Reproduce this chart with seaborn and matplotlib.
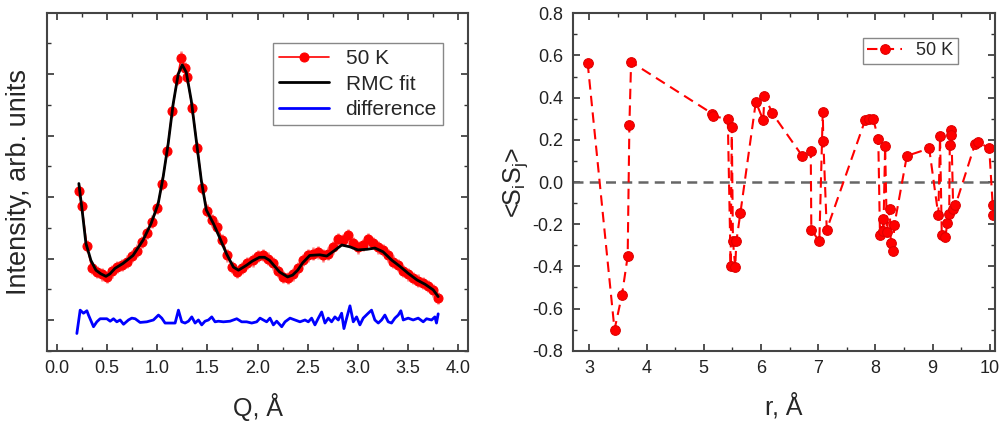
import numpy as np
import pandas as pd
import seaborn as sns
import matplotlib
matplotlib.use("Agg")
import matplotlib.pyplot as plt
from matplotlib.ticker import MultipleLocator, FormatStrFormatter

# ---- left panel: measured intensity, RMC fit and difference ----
q_data = [0.22, 0.25, 0.30, 0.35, 0.40, 0.45, 0.50, 0.55, 0.60, 0.65,
          0.70, 0.75, 0.80, 0.85, 0.90, 0.95, 1.00, 1.05, 1.10, 1.15,
          1.20, 1.24, 1.28, 1.30, 1.35, 1.40, 1.45, 1.50, 1.55, 1.60,
          1.65, 1.70, 1.75, 1.80, 1.85, 1.90, 1.95, 2.00, 2.05, 2.10,
          2.15, 2.20, 2.25, 2.30, 2.35, 2.40, 2.45, 2.50, 2.55, 2.60,
          2.65, 2.70, 2.75, 2.80, 2.85, 2.90, 2.95, 3.00, 3.05, 3.10,
          3.15, 3.20, 3.25, 3.30, 3.35, 3.40, 3.45, 3.50, 3.55, 3.60,
          3.65, 3.70, 3.75, 3.80]
i_data = [2.10, 1.85, 1.20, 0.85, 0.78, 0.74, 0.70, 0.79, 0.86, 0.90,
          0.95, 1.04, 1.13, 1.27, 1.42, 1.60, 1.82, 2.22, 2.75, 3.40,
          3.92, 4.27, 4.10, 3.95, 3.45, 2.80, 2.15, 1.78, 1.62, 1.52,
          1.30, 1.05, 0.86, 0.78, 0.85, 0.93, 0.97, 1.04, 1.06, 1.00,
          0.92, 0.80, 0.70, 0.68, 0.74, 0.84, 0.98, 1.05, 1.08, 1.10,
          1.05, 1.08, 1.18, 1.32, 1.30, 1.38, 1.25, 1.18, 1.22, 1.32,
          1.25, 1.18, 1.14, 1.05, 0.95, 0.90, 0.80, 0.74, 0.68, 0.64,
          0.60, 0.55, 0.48, 0.36]
i_err = 0.1

q_fit = [0.22, 0.26, 0.29, 0.34, 0.39, 0.44, 0.49, 0.53, 0.58, 0.66,
         0.76, 0.86, 0.94, 1.01, 1.06, 1.11, 1.16, 1.21, 1.25, 1.29,
         1.34, 1.39, 1.44, 1.49, 1.56, 1.62, 1.69, 1.76, 1.81, 1.89,
         1.95, 2.02, 2.07, 2.12, 2.22, 2.30, 2.35, 2.40, 2.45, 2.52,
         2.62, 2.69, 2.75, 2.84, 2.92, 3.00, 3.09, 3.17, 3.25, 3.34,
         3.42, 3.50, 3.59, 3.67, 3.75, 3.80]
i_fit = [2.22, 1.68, 1.25, 0.97, 0.81, 0.75, 0.71, 0.75, 0.84, 0.92,
         1.05, 1.30, 1.57, 1.89, 2.33, 2.87, 3.52, 4.00, 4.15, 4.03,
         3.57, 2.92, 2.27, 1.79, 1.57, 1.35, 1.08, 0.86, 0.81, 0.89,
         0.96, 1.02, 1.02, 0.97, 0.78, 0.70, 0.73, 0.81, 0.93, 1.05,
         1.06, 1.04, 1.11, 1.22, 1.19, 1.14, 1.15, 1.17, 1.11, 0.97,
         0.87, 0.76, 0.65, 0.58, 0.49, 0.38]

q_diff = [0.200, 0.233, 0.266, 0.300, 0.316, 0.366, 0.399, 0.432, 0.499, 0.532,
          0.565, 0.598, 0.631, 0.665, 0.714, 0.747, 0.781, 0.830, 0.897, 0.963,
          1.013, 1.046, 1.079, 1.129, 1.179, 1.212, 1.245, 1.278, 1.312, 1.345,
          1.378, 1.411, 1.444, 1.477, 1.511, 1.544, 1.577, 1.610, 1.660, 1.726,
          1.793, 1.842, 1.892, 1.942, 1.992, 2.025, 2.058, 2.091, 2.124, 2.158,
          2.191, 2.241, 2.274, 2.324, 2.373, 2.423, 2.473, 2.506, 2.539, 2.572,
          2.606, 2.639, 2.672, 2.705, 2.738, 2.771, 2.805, 2.838, 2.861, 2.888,
          2.921, 2.954, 2.987, 3.020, 3.053, 3.103, 3.136, 3.169, 3.203, 3.236,
          3.269, 3.302, 3.335, 3.369, 3.402, 3.428, 3.452, 3.501, 3.551, 3.601,
          3.651, 3.684, 3.734, 3.767, 3.783, 3.800]
i_diff = [-0.22, 0.16, 0.11, 0.15, 0.08, -0.11, -0.03, 0.02, 0.02, -0.02,
          0.02, -0.03, 0.00, -0.07, 0.00, 0.03, 0.02, -0.04, -0.03, 0.00,
          0.08, 0.03, -0.05, -0.05, -0.05, 0.16, -0.03, -0.05, -0.02, 0.05,
          -0.05, 0.00, -0.08, -0.02, 0.00, 0.05, -0.03, -0.02, -0.03, -0.02,
          0.02, -0.03, -0.03, -0.05, -0.03, 0.03, 0.00, -0.03, 0.03, -0.08,
          -0.02, -0.11, -0.03, 0.03, 0.00, -0.03, 0.00, -0.03, 0.03, -0.08,
          0.03, 0.13, -0.05, 0.03, -0.03, 0.05, 0.00, 0.11, -0.14, 0.03,
          0.23, -0.03, 0.05, -0.08, 0.03, 0.11, 0.16, 0.00, -0.05, 0.00,
          0.08, -0.03, -0.05, 0.03, 0.08, 0.15, 0.00, 0.03, 0.00, 0.03,
          -0.03, 0.02, 0.00, 0.05, -0.05, 0.10]

# ---- right panel: spin correlation <SiSj> vs distance ----
r_vals = [2.97, 3.44, 3.57, 3.67, 3.70, 3.73, 5.15, 5.17, 5.42, 5.47,
          5.49, 5.51, 5.55, 5.57, 5.64, 5.91, 6.04, 6.06, 6.20, 6.72,
          6.87, 6.88, 7.02, 7.08, 7.09, 7.15, 7.82, 7.89, 7.96, 8.05,
          8.08, 8.13, 8.14, 8.17, 8.20, 8.25, 8.27, 8.31, 8.33, 8.55,
          8.94, 9.10, 9.13, 9.16, 9.22, 9.26, 9.29, 9.30, 9.32, 9.33,
          9.36, 9.40, 9.74, 9.80, 9.99, 10.05, 10.06]
ss_vals = [0.566, -0.700, -0.536, -0.353, 0.269, 0.569, 0.324, 0.311, 0.300, -0.398,
           0.262, -0.280, -0.403, -0.280, -0.147, 0.380, 0.293, 0.410, 0.325, 0.124,
           0.147, -0.226, -0.282, 0.330, 0.193, -0.226, 0.293, 0.300, 0.300, 0.206,
           -0.253, -0.174, -0.230, 0.170, -0.237, -0.126, -0.290, -0.325, -0.206, 0.124,
           0.159, -0.158, 0.217, -0.253, -0.261, -0.195, -0.150, 0.174, 0.246, 0.222,
           -0.130, -0.110, 0.179, 0.190, 0.159, -0.110, -0.158]

sns.set_style("ticks")
plt.rcParams["font.family"] = ["Liberation Sans", "DejaVu Sans"]
plt.rcParams["mathtext.fontset"] = "custom"
plt.rcParams["mathtext.rm"] = "Liberation Sans"
plt.rcParams["axes.unicode_minus"] = False

fig = plt.figure(figsize=(10.03, 4.29), dpi=100)
ax1 = fig.add_axes([0.0466, 0.1825, 0.4203, 0.788])
ax2 = fig.add_axes([0.5716, 0.1825, 0.4204, 0.7865])

# left panel
ax1.errorbar(q_data, i_data, yerr=i_err, fmt="none", ecolor="#ff8080",
             elinewidth=1.8, capsize=0, zorder=1)
sns.lineplot(x=q_data, y=i_data, ax=ax1, color="red", marker="o", markersize=6.5,
             markeredgecolor="red", linewidth=1.2, sort=False, label="50 K", zorder=2)
sns.lineplot(x=q_fit, y=i_fit, ax=ax1, color="black", linewidth=2,
             sort=False, label="RMC fit", zorder=3)
sns.lineplot(x=q_diff, y=i_diff, ax=ax1, color="blue", linewidth=2,
             sort=False, label="difference", zorder=3)

ax1.set_xlim(-0.1, 4.1)
ax1.set_ylim(-0.5, 5.0)
ax1.xaxis.set_major_locator(MultipleLocator(0.5))
ax1.xaxis.set_minor_locator(MultipleLocator(0.25))
ax1.xaxis.set_major_formatter(FormatStrFormatter("%.1f"))
ax1.yaxis.set_major_locator(MultipleLocator(1))
ax1.yaxis.set_minor_locator(MultipleLocator(0.5))
ax1.set_yticklabels([])
ax1.set_xlabel("Q, Å", fontsize=18)
ax1.set_ylabel("Intensity, arb. units", fontsize=19.5)
ax1.xaxis.set_label_coords(0.5, -0.125)
ax1.yaxis.set_label_coords(-0.035, 0.5)
ax1.legend(loc="upper right", bbox_to_anchor=(0.94, 0.91), fontsize=15,
           handlelength=2.4, labelspacing=0.3, frameon=True, fancybox=False,
           edgecolor="#888888", framealpha=1, borderpad=0.3, borderaxespad=0)

# right panel
ax2.axhline(0, color="#666666", linestyle=(0, (4, 2.5)), linewidth=1.8, zorder=1)
sns.lineplot(x=r_vals, y=ss_vals, ax=ax2, color="red", marker="o", markersize=7,
             markeredgecolor="#dd0000", linestyle=(0, (5, 3)), linewidth=1.5,
             sort=False, label="50 K", zorder=2)
ax2.set_xlim(2.72, 10.09)
ax2.set_ylim(-0.8, 0.8)
ax2.xaxis.set_major_locator(MultipleLocator(1))
ax2.xaxis.set_minor_locator(MultipleLocator(0.5))
ax2.yaxis.set_major_locator(MultipleLocator(0.2))
ax2.yaxis.set_minor_locator(MultipleLocator(0.1))
ax2.yaxis.set_major_formatter(FormatStrFormatter("%.1f"))
ax2.set_xlabel("r, Å", fontsize=18)
ax2.set_ylabel(r"<S$_\mathregular{i}$S$_\mathregular{j}$>", fontsize=18)
ax2.xaxis.set_label_coords(0.5, -0.125)
ax2.yaxis.set_label_coords(-0.103, 0.5)
ax2.legend(loc="upper right", bbox_to_anchor=(0.912, 0.927), fontsize=13,
           handlelength=1.9, frameon=True, fancybox=False,
           edgecolor="#888888", framealpha=1, borderpad=0.25, borderaxespad=0)

for ax in (ax1, ax2):
    ax.tick_params(which="both", direction="in", top=True, right=True,
                   colors="#333333", labelcolor="#222222", labelsize=13, pad=7)
    ax.tick_params(which="major", length=5, width=1.2)
    ax.tick_params(which="minor", length=3, width=1.0)
    for s in ax.spines.values():
        s.set_color("#444444")
        s.set_linewidth(1.5)

fig.savefig("out.png", dpi=100)
